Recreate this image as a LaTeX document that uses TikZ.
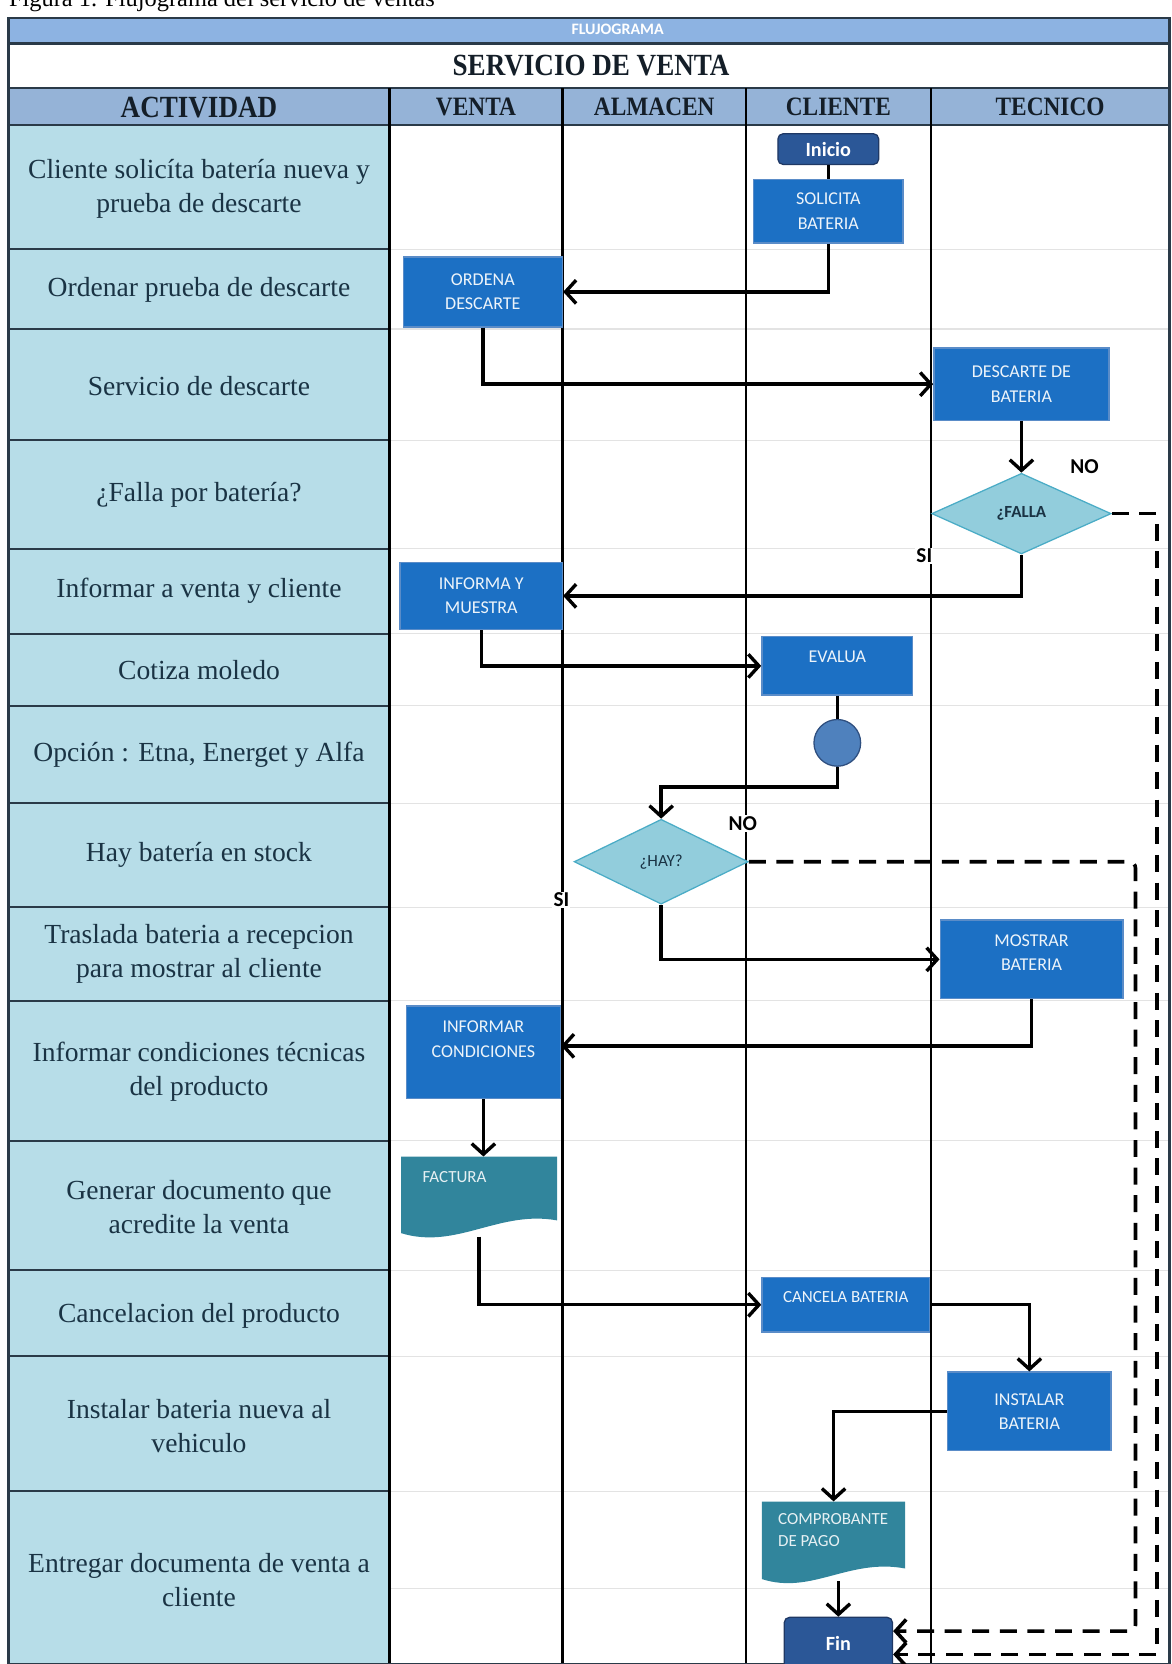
\documentclass[tikz,border=0pt]{standalone}
\usepackage{fontspec}
\setmainfont{Liberation Serif}
\newfontfamily\boxfont{Carlito}
\newfontfamily\headfont[FakeStretch=0.88]{Liberation Serif}
\usetikzlibrary{shapes.geometric,arrows.meta}
\definecolor{bandblue}{HTML}{8DB3E2}
\definecolor{headblue}{HTML}{95B3D7}
\definecolor{actblue}{HTML}{B7DDE8}
\definecolor{acttext}{HTML}{1A3344}
\definecolor{headtext}{HTML}{141E28}
\definecolor{boxblue}{HTML}{1C70C4}
\definecolor{boxedge}{HTML}{5A8CC8}
\definecolor{termblue}{HTML}{2B5797}
\definecolor{termedge}{HTML}{1F3864}
\definecolor{decfill}{HTML}{92CDDC}
\definecolor{decedge}{HTML}{4BACC6}
\definecolor{docfill}{HTML}{31859C}
\definecolor{circfill}{HTML}{4F81BD}
\definecolor{circedge}{HTML}{2F4F7F}
\definecolor{gridgray}{HTML}{E3E3E3}
\definecolor{rulegray}{HTML}{2A3A48}
\begin{document}
\begin{tikzpicture}[x=1pt, y=-1pt]
\tikzstyle{lane}     = [rectangle, fill=boxblue, draw=boxedge, line width=1.4pt, text=white!92!boxblue, font=\boxfont\fontsize{17}{23}\selectfont, align=center, inner sep=0pt]
\tikzstyle{term}     = [rectangle, rounded corners=5pt, fill=termblue, draw=termedge, line width=1.2pt, text=white, font=\boxfont\bfseries\fontsize{19}{23}\selectfont, inner sep=0pt]
\tikzstyle{decide}   = [diamond, fill=decfill, draw=decedge, line width=1.2pt, text=acttext, font=\boxfont\fontsize{16}{20}\selectfont, inner sep=0pt]
\tikzstyle{docnode}  = [rectangle, inner sep=0pt]
\tikzstyle{doctext}  = [text=white!88!docfill, font=\boxfont\fontsize{16}{21}\selectfont, align=left, inner sep=0pt]
\tikzstyle{flow}     = [line width=3.2pt, -{Straight Barb[length=10pt, width=22pt]}]
\tikzstyle{noflow}   = [flow, line width=3.4pt, dash pattern=on 16pt off 10pt]
\tikzstyle{answer}   = [fill=white, inner sep=1pt, text=black, font=\boxfont\bfseries\fontsize{20}{21}\selectfont]
\tikzstyle{activity} = [align=center, text=acttext, font=\fontsize{26}{32}\selectfont]
\tikzstyle{colhead}  = [text=headtext, font=\headfont\bfseries\fontsize{25}{26}\selectfont]
\useasboundingbox (0,0) rectangle (1104,1568);
\node[anchor=base west, text=black, font=\fontsize{23}{24}\selectfont] at (5,6) (caption) {Figura 1. Flujograma del servicio de ventas};
\fill[bandblue] (8,17) rectangle (1102,41);
\fill[white] (8,41) rectangle (1102,83);
\fill[headblue] (8,83) rectangle (1102,118);
\fill[actblue] (8,118) rectangle (367,1568);
\foreach \y in {235,310,415,517,597,665,757,855,943,1075,1197,1278,1405,1497}
  \draw[gridgray, line width=1pt] (367,\y) -- (1102,\y);
\foreach \y in {235,310,415,517,597,665,757,855,943,1075,1197,1278,1405}
  \draw[rulegray, line width=1.8pt] (8,\y) -- (367,\y);
\draw[rulegray, line width=2.4pt] (8,41) -- (1102,41);
\draw[rulegray, line width=2.4pt] (8,83) -- (1102,83);
\draw[rulegray, line width=2.4pt] (8,118) -- (1102,118);
\foreach \x in {367,530,703,877}
  \draw[black, line width=2.2pt] (\x,83) -- (\x,1568);
\draw[rulegray, line width=2pt] (8,17) rectangle (1102,1568);
\node[text=white, font=\boxfont\bfseries\fontsize{15}{16}\selectfont] at (582,28) (band) {FLUJOGRAMA};
\node[text=headtext, font=\headfont\bfseries\fontsize{29}{30}\selectfont] at (557,62) (title) {SERVICIO DE VENTA};
\node[colhead, font=\headfont\bfseries\fontsize{29}{30}\selectfont] at (187.5,101) (h_actividad) {ACTIVIDAD};
\node[colhead] at (448.5,101) (h_venta) {VENTA};
\node[colhead] at (616.5,101) (h_almacen) {ALMACEN};
\node[colhead] at (790,101) (h_cliente) {CLIENTE};
\node[colhead] at (989.5,101) (h_tecnico) {TECNICO};
\node[activity] at (187.5,178) (r_1) {Cliente solicíta batería nueva y\\prueba de descarte};
\node[activity] at (187.5,273) (r_2) {Ordenar prueba de descarte};
\node[activity] at (187.5,364) (r_3) {Servicio de descarte};
\node[activity] at (187.5,466) (r_4) {¿Falla por batería?};
\node[activity] at (187.5,557) (r_5) {Informar a venta y cliente};
\node[activity] at (187.5,631) (r_6) {Cotiza moledo};
\node[activity] at (187.5,711) (r_7) {Opción : Etna, Energet y Alfa};
\node[activity] at (187.5,806) (r_8) {Hay batería en stock};
\node[activity] at (187.5,899) (r_9) {Traslada bateria a recepcion\\para mostrar al cliente};
\node[activity] at (187.5,1010) (r_10) {Informar condiciones técnicas\\del producto};
\node[activity] at (187.5,1137) (r_11) {Generar documento que\\acredite la venta};
\node[activity] at (187.5,1240) (r_12) {Cancelacion del producto};
\node[activity] at (187.5,1344) (r_13) {Instalar bateria nueva al\\vehiculo};
\node[activity] at (187.5,1489) (r_14) {Entregar documenta de venta a\\cliente};
\node[term, minimum width=95pt, minimum height=29pt] at (780.5,140.5) (c_inicio) {Inicio};
\node[lane, minimum width=141pt, minimum height=60pt] at (780.5,199) (c_solicita) {SOLICITA\\BATERIA};
\node[lane, minimum width=150pt, minimum height=66pt] at (455,275) (v_ordena) {ORDENA\\DESCARTE};
\node[lane, minimum width=165pt, minimum height=68pt] at (962.5,362) (t_descarte) {DESCARTE DE\\BATERIA};
\node[decide, minimum width=169pt, minimum height=76pt, font=\boxfont\bfseries\fontsize{16}{20}\selectfont] at (962.5,484) (t_falla) {¿FALLA};
\node[lane, minimum width=153pt, minimum height=63pt] at (453.5,561.5) (v_informa) {INFORMA Y\\MUESTRA};
\node[lane, minimum width=142pt, minimum height=55pt, text depth=17pt] at (789,627.5) (c_evalua) {EVALUA};
\node[circle, fill=circfill, draw=circedge, line width=1.2pt, minimum size=44pt] at (789,700) (c_conector) {};
\node[decide, minimum width=164pt, minimum height=80pt] at (623,812) (a_hay) {¿HAY?};
\node[lane, minimum width=172pt, minimum height=74pt, text depth=13pt] at (972,904) (t_mostrar) {MOSTRAR\\BATERIA};
\node[lane, minimum width=145pt, minimum height=87pt, text depth=25pt] at (455.5,991.5) (v_condiciones) {INFORMAR\\CONDICIONES};
\fill[docfill] (378,1090) -- (525,1090) -- (525,1150) .. controls (470,1140) and (430,1178) .. (378,1162) -- cycle;
\node[docnode, minimum width=147pt, minimum height=75pt] at (451.5,1127.5) (v_factura) {};
\node[doctext, anchor=west] at (398,1109) (v_factura_txt) {FACTURA};
\node[lane, minimum width=158pt, minimum height=51pt, text depth=15pt, font=\boxfont\fontsize{16}{20}\selectfont] at (797,1229.5) (c_cancela) {CANCELA BATERIA};
\node[lane, minimum width=154pt, minimum height=74pt] at (970,1330) (t_instalar) {INSTALAR\\BATERIA};
\fill[docfill] (718,1415) -- (853,1415) -- (853,1478) .. controls (800,1468) and (765,1503) .. (718,1488) -- cycle;
\node[docnode, minimum width=135pt, minimum height=75pt] at (785.5,1452.5) (c_comprobante) {};
\node[doctext, anchor=north west] at (733,1426) (c_comprobante_txt) {COMPROBANTE\\DE PAGO};
\node[term, minimum width=102pt, minimum height=50pt] at (790,1549) (c_fin) {Fin};
\draw[line width=3.2pt] (c_inicio.south) -- (c_solicita.north);
\draw[flow] (c_solicita.south) |- (v_ordena.east);
\draw[flow] (v_ordena.south) |- (t_descarte.west);
\draw[flow] (t_descarte.south) -- (t_falla.north);
\draw[flow] (t_falla.south) |- (v_informa.east);
\draw[flow] (v_informa.south) |- (c_evalua.west);
\draw[line width=3.2pt] (c_evalua.south) -- (c_conector.north);
\draw[flow] (c_conector.south) -- ++(0,19) -| (a_hay.north);
\draw[flow] (a_hay.south) |- (t_mostrar.west);
\draw[flow] (t_mostrar.south) |- ([yshift=6pt]v_condiciones.east);
\draw[flow] (v_condiciones.south) -- (v_condiciones.south |- v_factura.north);
\draw[flow] (v_factura.south) |- (c_cancela.west);
\draw[flow] (c_cancela.east) -| (t_instalar.north);
\draw[flow] (t_instalar.west) -| (c_comprobante.north);
\draw[flow] (c_comprobante.south -| c_fin.north) -- (c_fin.north);
\draw[noflow] (t_falla.east) -| (1090,1559) -- ([yshift=-10pt]c_fin.east);
\draw[noflow, rounded corners=6pt] (a_hay.east) -| (1070,1537) -- ([yshift=12pt]c_fin.east);
\node[answer] at (1022,440) (t_falla_no) {NO};
\node[answer] at (871,524) (t_falla_si) {SI};
\node[answer] at (700,776) (a_hay_no) {NO};
\node[answer] at (529,848) (a_hay_si) {SI};
\end{tikzpicture}
\end{document}
